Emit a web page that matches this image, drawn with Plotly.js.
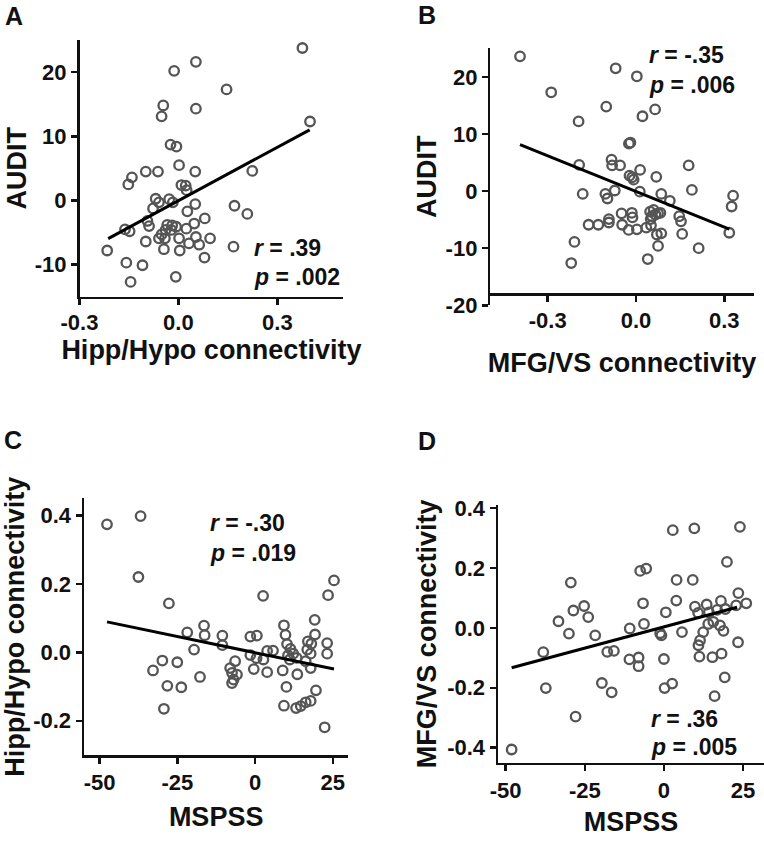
<!DOCTYPE html>
<html>
<head>
<meta charset="utf-8">
<script src="https://cdn.plot.ly/plotly-3.0.1.min.js"></script>
<style>
  html, body { margin: 0; padding: 0; background: #fff; }
  #chart { width: 764px; height: 841px; }
</style>
</head>
<body>
<div id="chart"></div>
<script>
// ---------- Panel A: Hipp/Hypo connectivity vs AUDIT ----------
const aX = [0.376, 0.053, -0.013, 0.146, -0.046, -0.051, 0.053, 0.399, -0.024, -0.006,
  -0.099, -0.062, -0.141, -0.152, 0.002, 0.051, 0.224, 0.009, 0.022, 0.025,
  -0.069, -0.059, -0.077, -0.028, -0.017, 0.051, 0.027, 0.080, -0.094, -0.089,
  -0.162, -0.148, -0.034, -0.019, -0.007, -0.022, -0.039, 0.048, 0.024, -0.051,
  -0.059, -0.041, 0.002, 0.053, 0.063, 0.032, 0.096, -0.099, -0.044, 0.004,
  -0.216, 0.079, -0.158, -0.109, -0.145, -0.008, 0.170, 0.209, 0.167];
const aY = [23.75, 21.6, 20.2, 17.3, 14.8, 13.1, 14.3, 12.3, 8.7, 8.4,
  4.5, 4.5, 3.6, 2.5, 5.5, 4.5, 4.6, 2.4, 2.3, 1.6,
  0.26, -0.3, -1.25, 0.2, -0.3, -0.57, -1.7, -2.8, -3.2, -4.0,
  -4.5, -4.8, -3.8, -3.9, -4.1, -4.6, -4.6, -3.6, -4.4, -5.3,
  -5.9, -5.9, -5.9, -5.7, -6.9, -6.7, -5.9, -6.4, -7.6, -7.8,
  -7.8, -8.9, -9.7, -10.1, -12.7, -11.9, -0.83, -2.1, -7.2];
const aFitX = [-0.213, 0.398];
const aFitY = [-5.94, 11.0];

// ---------- Panel B: MFG/VS connectivity vs AUDIT ----------
const bX = [-0.394, -0.069, 0.003, -0.288, -0.101, 0.065, 0.022, -0.195, -0.019, -0.024,
  -0.193, -0.083, -0.081, -0.054, 0.179, 0.014, -0.022, -0.013, -0.008, 0.069,
  0.190, 0.013, -0.072, -0.181, -0.104, -0.097, 0.086, 0.115, 0.330, 0.325,
  -0.049, -0.014, -0.012, 0.048, 0.060, 0.075, 0.054, 0.066, 0.083, 0.050,
  -0.092, -0.092, 0.147, 0.153, -0.161, -0.128, -0.047, -0.025, 0.003, 0.035,
  0.051, 0.071, 0.086, 0.157, 0.317, 0.075, -0.209, 0.213, 0.040, -0.220];
const bY = [23.6, 21.5, 20.1, 17.3, 14.8, 14.3, 13.1, 12.2, 8.5, 8.3,
  4.6, 5.5, 4.5, 4.5, 4.5, 3.7, 2.7, 2.4, 2.0, 2.5,
  0.2, -0.1, 0.1, -0.5, -0.5, -1.3, -0.5, -1.7, -0.8, -2.7,
  -3.9, -3.8, -4.6, -3.6, -3.3, -3.9, -4.4, -4.1, -3.8, -4.9,
  -4.9, -5.5, -4.4, -5.3, -5.9, -5.9, -5.9, -6.8, -6.7, -6.4,
  -6.0, -7.6, -7.4, -7.5, -7.3, -9.6, -8.9, -10.0, -11.9, -12.6];
const bFitX = [-0.394, 0.317];
const bFitY = [8.13, -6.67];

// ---------- Panel C: MSPSS vs Hipp/Hypo connectivity ----------
const cX = [-47.6, -36.8, -37.5, -27.7, 2.6, 25.4, 23.5, 19.2, 9.3, 9.8,
  19.3, 17.0, 18.1, 23.2, 23.2, -21.8, -16.4, -16.2, -10.5, -10.5,
  -19.6, -1.5, 0.6, -1.5, 0.5, 2.7, 3.9, 5.8, -0.4, 3.9,
  10.3, 11.4, 12.3, 10.6, 13.4, 11.2, 16.8, 17.9, 16.3, 17.9,
  -6.4, -8.0, -7.4, -5.8, -6.9, -7.4, 8.9, 13.6, 10.1, 19.6,
  9.3, 13.2, 14.7, 16.3, 17.9, 22.4, -29.8, -25.0, -32.8, -17.7,
  -28.2, -23.7, -29.3];
const cY = [0.374, 0.398, 0.220, 0.143, 0.165, 0.210, 0.167, 0.095, 0.079, 0.051,
  0.052, 0.032, 0.025, 0.027, -0.004, 0.058, 0.078, 0.050, 0.049, 0.021,
  0.008, 0.046, 0.049, -0.008, -0.017, -0.021, 0.004, 0.005, -0.049, -0.058,
  0.024, 0.010, -0.004, -0.009, -0.016, -0.021, 0.008, -0.004, -0.026, -0.046,
  -0.026, -0.046, -0.060, -0.065, -0.080, -0.090, -0.053, -0.064, -0.101, -0.111,
  -0.156, -0.163, -0.157, -0.146, -0.142, -0.219, -0.024, -0.029, -0.053, -0.072,
  -0.098, -0.102, -0.165];
const cFitX = [-47.6, 25.4];
const cFitY = [0.089, -0.049];

// ---------- Panel D: MSPSS vs MFG/VS connectivity ----------
const dX = [-48.1, -38.1, -37.3, -33.3, -30.0, -29.4, -28.6, -25.2, -23.9, -21.7,
  -27.9, -19.6, -16.5, -17.9, -15.8, -7.5, -5.6, -6.6, -6.3, -10.8,
  -10.9, -8.0, -8.0, -1.2, -0.8, 0.6, 0.0, 0.2, 2.6, 2.8,
  9.6, 24.0, 4.0, 9.1, 3.9, 5.7, 19.9, 23.5, 26.0, 23.4,
  19.2, 16.0, 15.3, 18.2, 11.2, 9.8, 13.5, 18.0, 22.8, 10.8,
  14.2, 16.8, 19.4, 14.0, 15.6, 17.7, 18.8, 12.4, 11.4, 10.9];
const dY = [-0.406, -0.081, -0.201, 0.022, -0.019, 0.151, 0.058, 0.073, 0.036, -0.025,
  -0.296, -0.184, -0.215, -0.080, -0.077, 0.190, 0.198, 0.082, 0.013, -0.002,
  -0.105, -0.099, -0.128, -0.018, -0.025, 0.052, -0.104, -0.201, -0.186, 0.326,
  0.332, 0.337, 0.160, 0.160, 0.091, -0.014, 0.220, 0.116, 0.082, -0.048,
  -0.165, -0.228, -0.098, -0.086, -0.096, 0.071, 0.078, 0.090, 0.075, 0.050,
  0.052, 0.060, 0.063, 0.013, 0.020, 0.008, -0.010, -0.014, -0.042, -0.058];
const dFitX = [-48.1, 23.1];
const dFitY = [-0.133, 0.069];

// ---------- Text ----------
const panelLabels = ["A", "B", "C", "D"];
const xTitles = ["Hipp/Hypo connectivity", "MFG/VS connectivity", "MSPSS", "MSPSS"];
const yTitles = ["AUDIT", "AUDIT", "Hipp/Hypo connectivity", "MFG/VS connectivity"];
const rTexts = ["<i>r</i> = .39", "<i>r</i> = -.35", "<i>r</i> = -.30", "<i>r</i> = .36"];
const pTexts = ["<i>p</i> = .002", "<i>p</i> = .006", "<i>p</i> = .019", "<i>p</i> = .005"];
const xTickVals = [[-0.3, 0.0, 0.3], [-0.3, 0.0, 0.3], [-50, -25, 0, 25], [-50, -25, 0, 25]];
const xTickText = [["-0.3", "0.0", "0.3"], ["-0.3", "0.0", "0.3"], ["-50", "-25", "0", "25"], ["-50", "-25", "0", "25"]];
const yTickVals = [[-10, 0, 10, 20], [-20, -10, 0, 10, 20], [-0.2, 0.0, 0.2, 0.4], [-0.4, -0.2, 0.0, 0.2, 0.4]];
const yTickText = [["-10", "0", "10", "20"], ["-20", "-10", "0", "10", "20"], ["-0.2", "0.0", "0.2", "0.4"], ["-0.4", "-0.2", "0.0", "0.2", "0.4"]];

const W = 764, H = 841;
const px = v => v / W;
const py = v => 1 - v / H;

const FONT = "Liberation Sans, Arial, sans-serif";
const markerStyle = {symbol: "circle-open", size: 9.5, color: "#555555", line: {width: 2.3, color: "#555555"}};
const lineStyle = {color: "#000", width: 3};

const sets = [[aX, aY, aFitX, aFitY], [bX, bY, bFitX, bFitY], [cX, cY, cFitX, cFitY], [dX, dY, dFitX, dFitY]];
const traces = [];
sets.forEach((s, i) => {
  const xa = i === 0 ? "x" : "x" + (i + 1);
  const ya = i === 0 ? "y" : "y" + (i + 1);
  traces.push({x: s[0], y: s[1], xaxis: xa, yaxis: ya, type: "scatter", mode: "markers",
    marker: markerStyle, cliponaxis: false, hoverinfo: "x+y", showlegend: false});
  traces.push({x: s[2], y: s[3], xaxis: xa, yaxis: ya, type: "scatter", mode: "lines",
    line: lineStyle, cliponaxis: false, hoverinfo: "skip", showlegend: false});
});

// pixel geometry of each panel: [xLeft, xRight, yTop, yBottom]
const geo = [[79.5, 343.3, 40, 296.7], [490.3, 753.7, 48.3, 305.3], [84, 348.3, 498.3, 755], [498, 764, 505, 762.7]];
const xRanges = [[-0.3, 0.5], [-0.495, 0.40], [-55, 30], [-52.4, 31.6]];
const yRanges = [[-15, 25], [-20, 25], [-0.3, 0.45], [-0.45, 0.41]];
const xLabelStandoff = [-2, 0, 0, 0];
const xStandoff = [0, 20, 13, 11];
const yStandoff = [1, 1, 3, 3];

const layout = {
  width: W, height: H,
  margin: {l: 0, r: 0, t: 0, b: 0},
  paper_bgcolor: "#fff", plot_bgcolor: "#fff",
  showlegend: false,
  font: {family: FONT, color: "#111"},
  annotations: []
};

// panel label: [center x, top y] in px
const labelPos = [[14, 1], [427.5, 0], [12.5, 425], [426.5, 425.5]];
const rPos = [[251.7, 248], [647, 55], [208, 523.3], [648.7, 719]];
const pPos = [[251.7, 276.7], [647, 85], [208, 553.3], [648.7, 746.7]];

geo.forEach((g, i) => {
  const xk = i === 0 ? "xaxis" : "xaxis" + (i + 1);
  const yk = i === 0 ? "yaxis" : "yaxis" + (i + 1);
  const xa = i === 0 ? "x" : "x" + (i + 1);
  const ya = i === 0 ? "y" : "y" + (i + 1);
  const common = {
    showline: true, linecolor: "#111", linewidth: 2.5,
    ticks: "outside", ticklen: 6, tickwidth: 2.5, tickcolor: "#111",
    showgrid: false, zeroline: false, automargin: false,
    tickfont: {family: FONT, size: 22, weight: "bold", color: "#111"},
    tickmode: "array", fixedrange: true
  };
  layout[xk] = Object.assign({}, common, {
    domain: [px(g[0]), px(g[1])], range: xRanges[i],
    tickvals: xTickVals[i], ticktext: xTickText[i],
    ticklabelstandoff: xLabelStandoff[i],
    title: {text: xTitles[i], font: {family: FONT, size: 27, weight: "bold", color: "#111"}, standoff: xStandoff[i]}
  });
  if (i === 1) {
    layout[xk].anchor = "free";
    layout[xk].position = py(294);
  } else {
    layout[xk].anchor = ya;
  }
  layout[yk] = Object.assign({}, common, {
    domain: [py(g[3]), py(g[2])], range: yRanges[i], anchor: xa,
    tickvals: yTickVals[i], ticktext: yTickText[i],
    ticklabelstandoff: 0,
    title: {text: yTitles[i], font: {family: FONT, size: 27, weight: "bold", color: "#111"}, standoff: yStandoff[i]}
  });
  layout.annotations.push({
    text: panelLabels[i], xref: "paper", yref: "paper",
    x: px(labelPos[i][0]), y: py(labelPos[i][1]), xanchor: "center", yanchor: "top",
    borderpad: 0,
    showarrow: false, font: {family: FONT, size: 25, weight: "bold", color: "#111"}
  });
  layout.annotations.push({
    text: rTexts[i], xref: "paper", yref: "paper",
    x: px(rPos[i][0]), y: py(rPos[i][1]), xanchor: "left", yanchor: "middle",
    showarrow: false, font: {family: FONT, size: 23, weight: "bold", color: "#111"}
  });
  layout.annotations.push({
    text: pTexts[i], xref: "paper", yref: "paper",
    x: px(pPos[i][0]), y: py(pPos[i][1]), xanchor: "left", yanchor: "middle",
    showarrow: false, font: {family: FONT, size: 23, weight: "bold", color: "#111"}
  });
});

Plotly.newPlot("chart", traces, layout, {displayModeBar: false, staticPlot: true});
</script>
</body>
</html>
